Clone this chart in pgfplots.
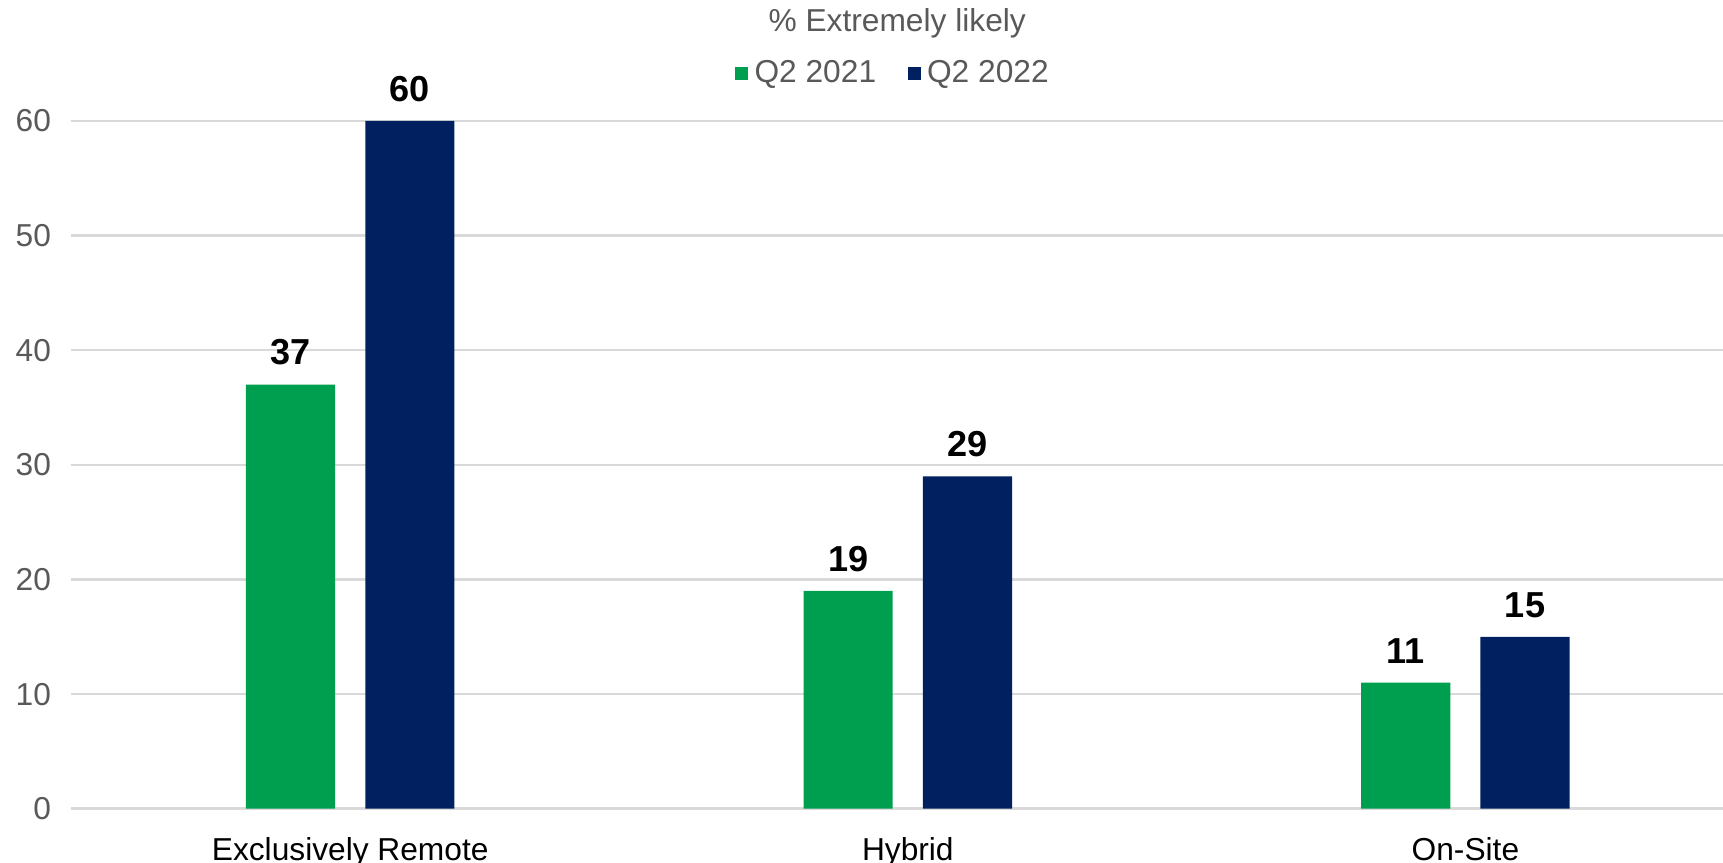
\documentclass[border=0pt]{standalone}
\usepackage{fontspec}
\setmainfont{Liberation Sans}
\usepackage{pgfplots}
\pgfplotsset{compat=1.18}
\definecolor{cgreen}{HTML}{009E4F}
\definecolor{cnavy}{HTML}{002060}
\definecolor{cgray}{HTML}{595959}
\definecolor{cgrid}{HTML}{D9D9D9}
\begin{document}
\begin{tikzpicture}
\begin{axis}[
  scale only axis, width=526.05pt, height=219.1pt,
  xmin=-0.5, xmax=2.462, ymin=0, ymax=60,
  ybar, bar width=28.4pt,
  xtick={0,1,2}, xticklabels={Exclusively Remote,Hybrid,On-Site},
  ytick={0,10,...,60},
  ymajorgrids, grid style={cgrid, line width=0.8pt},
  axis line style={draw=none},
  major tick length=0pt,
  /pgf/number format/assume math mode=true,
  tick label style={font=\fontsize{10.1}{12}\selectfont},
  yticklabel style={cgray, xshift=-3pt},
  xticklabel style={black, yshift=-5.5pt},
  clip=false,
  nodes near coords,
  every node near coord/.append style={font=\bfseries\fontsize{11.5}{13}\selectfont, black, yshift=2.6pt},
  legend columns=2,
  legend style={at={(0.5,1)}, anchor=center, yshift=15pt, xshift=-0.7pt, draw=none, fill=none,
    font=\fontsize{10.1}{12}\selectfont, text=cgray,
    /tikz/every even column/.append style={column sep=8pt}},
  legend image code/.code={\fill[#1] (0pt,-2.1pt) rectangle (4.2pt,2.1pt);},
]
\addplot[fill=cgreen, draw=none, bar shift=-19pt] coordinates {(0,37) (1,19) (2,11)};
\addlegendentry{Q2 2021}
\addplot[fill=cnavy, draw=none, bar shift=19pt] coordinates {(0,60) (1,29) (2,15)};
\addlegendentry{Q2 2022}
\node[cgray, font=\fontsize{10.1}{12}\selectfont] at (rel axis cs:0.5,1) [yshift=31.2pt] {\% Extremely likely};
\end{axis}
\pgfresetboundingbox
\path (-22.75pt,-17.15pt) rectangle (526.05pt,257.6pt);
\end{tikzpicture}
\end{document}
